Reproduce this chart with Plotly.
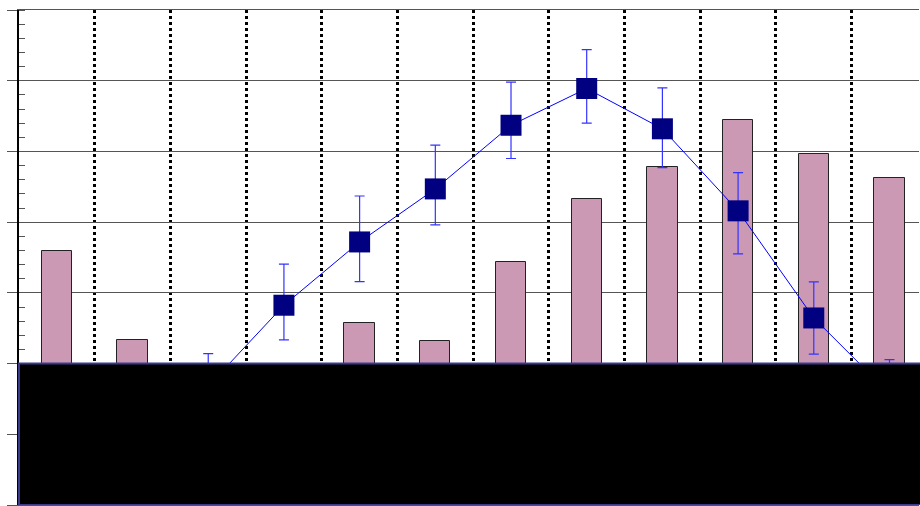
import plotly.graph_objects as go

categories = list(range(12))
bar_values = [15.9, 3.3, 0, 0, 5.8, 3.2, 14.4, 23.3, 27.8, 34.5, 29.6, 26.2]
line_values = [-12, -9, -3.2, 8.25, 17.2, 24.7, 33.7, 38.9, 33.2, 21.6, 6.45, -4.25]
err_plus = [5, 5, 4.6, 5.8, 6.5, 6.2, 6.1, 5.5, 5.8, 5.4, 5.1, 4.8]
err_minus = [5, 5, 4.6, 4.9, 5.6, 5.1, 4.7, 4.9, 5.5, 6.1, 5.1, 4.8]
boundaries = [0.5, 1.5, 2.5, 3.5, 4.5, 5.5, 6.5, 7.5, 8.5, 9.5, 10.5]

fig = go.Figure()
fig.add_trace(go.Bar(
    x=categories, y=bar_values, width=0.4,
    marker=dict(color="#CC99B4", line=dict(color="#222222", width=1)),
    showlegend=False,
))
fig.add_trace(go.Scatter(
    x=categories, y=line_values, mode="lines+markers",
    line=dict(color="#0000FF", width=1),
    marker=dict(symbol="square", size=21, color="#000080"),
    error_y=dict(type="data", symmetric=False, array=err_plus, arrayminus=err_minus,
                 color="#3333FF", thickness=1.2, width=5),
    showlegend=False,
))

fig.add_shape(type="rect", xref="paper", yref="y", x0=0, x1=1.01, y0=-20, y1=0,
              fillcolor="black", line=dict(color="#3a3a8a", width=2), layer="above")

fig.update_layout(
    width=920, height=506,
    margin=dict(l=19, r=1, t=10, b=1),
    paper_bgcolor="white", plot_bgcolor="white",
    bargap=0,
    xaxis=dict(range=[-0.5, 11.39], tickvals=boundaries, showticklabels=False, ticks="",
               showgrid=True, gridcolor="black", griddash="dot", gridwidth=2.5,
               zeroline=False, showline=True, linecolor="#555555", linewidth=1, mirror=True),
    yaxis=dict(range=[-20, 50], dtick=10, tick0=0, showticklabels=False,
               ticks="outside", ticklen=10, tickcolor="#555555", tickwidth=1,
               showgrid=True, gridcolor="#555555", gridwidth=1,
               zeroline=False, showline=True, linecolor="black", linewidth=1.5,
               minor=dict(dtick=2, ticks="inside", ticklen=6, tickcolor="#555555", showgrid=False)),
)

fig.write_html("out.html", config={"displayModeBar": False},
               post_script="document.body.style.margin='0px';document.body.style.overflow='hidden';")
